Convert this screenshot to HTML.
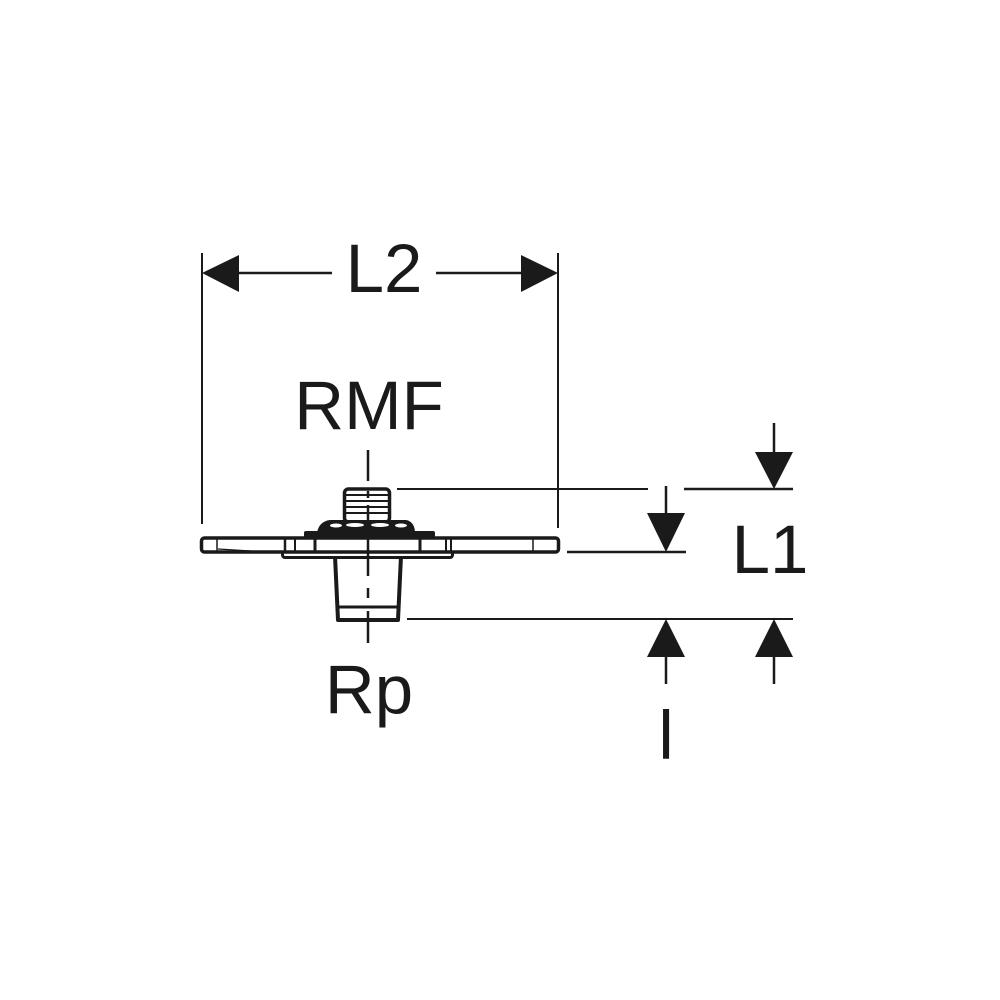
<!DOCTYPE html>
<html>
<head>
<meta charset="utf-8">
<style>
html,body{margin:0;padding:0;background:#fff;}
svg{display:block;}
text{font-family:"Liberation Sans",Arial,sans-serif;fill:#1a1a1a;}
</style>
</head>
<body>
<svg width="1000" height="1000" viewBox="0 0 1000 1000" xmlns="http://www.w3.org/2000/svg">
<rect width="1000" height="1000" fill="#fff"/>
<g stroke="#1a1a1a" fill="none">
  <!-- extension lines L2 -->
  <line x1="202" y1="253" x2="202" y2="524" stroke-width="2"/>
  <line x1="558" y1="253" x2="558" y2="528" stroke-width="2"/>
  <!-- L2 dimension line -->
  <line x1="238" y1="273" x2="332" y2="273" stroke-width="2.5"/>
  <line x1="436" y1="273" x2="522" y2="273" stroke-width="2.5"/>
  <!-- horizontal extension lines right -->
  <line x1="397" y1="489" x2="648" y2="489" stroke-width="2"/>
  <line x1="684" y1="489" x2="793" y2="489" stroke-width="2.5"/>
  <line x1="567" y1="552" x2="686" y2="552" stroke-width="2.5"/>
  <line x1="407" y1="619" x2="793" y2="619" stroke-width="2"/>
  <!-- arrow shafts -->
  <line x1="774" y1="423" x2="774" y2="453" stroke-width="2.5"/>
  <line x1="666" y1="486" x2="666" y2="514" stroke-width="2.5"/>
  <line x1="666" y1="656" x2="666" y2="684" stroke-width="2.5"/>
  <line x1="774" y1="656" x2="774" y2="684" stroke-width="2.5"/>
</g>
<g fill="#1a1a1a">
  <polygon points="202,273 239,255 239,292"/>
  <polygon points="558,273 521,255 521,292"/>
  <polygon points="755,452 793,452 774,489"/>
  <polygon points="647,513 685,513 666,552"/>
  <polygon points="647,657 685,657 666,619"/>
  <polygon points="755,657 793,657 774,619"/>
</g>

<!-- fitting -->
<g stroke="#1a1a1a" fill="#fff" stroke-linejoin="round">
  <!-- cone body -->
  <polygon points="335,556 401,556 398,620 338,620" stroke-width="4"/>
  <line x1="337" y1="607" x2="399" y2="607" stroke-width="3"/>
  <!-- lower flange -->
  <rect x="282.5" y="551" width="170" height="6.5" rx="2.5" stroke-width="3"/>
  <!-- plate -->
  <rect x="201.5" y="538" width="357" height="14" rx="3" stroke-width="3.5"/>
  <line x1="217" y1="539" x2="217" y2="551" stroke-width="1.5"/>
  <line x1="218" y1="549" x2="283" y2="553" stroke-width="1.2"/>
  <line x1="285" y1="539" x2="285" y2="551" stroke-width="2.5"/>
  <line x1="295" y1="539" x2="295" y2="551" stroke-width="2"/>
  <line x1="315" y1="539" x2="315" y2="551" stroke-width="3"/>
  <line x1="420" y1="539" x2="420" y2="551" stroke-width="3"/>
  <line x1="446" y1="539" x2="446" y2="551" stroke-width="2"/>
  <line x1="451" y1="539" x2="451" y2="551" stroke-width="2"/>
  <line x1="533" y1="539" x2="533" y2="551" stroke-width="1.5"/>
  <!-- nipple -->
  <rect x="344.5" y="489" width="45" height="33" rx="4" stroke-width="3.5"/>
  <g stroke-width="2">
    <line x1="346" y1="495" x2="388" y2="495"/>
    <line x1="346" y1="501" x2="388" y2="501"/>
    <line x1="346" y1="507" x2="388" y2="507"/>
    <line x1="346" y1="513" x2="388" y2="513"/>
  </g>
</g>
<g fill="#1a1a1a">
  <!-- black band -->
  <rect x="304" y="531" width="131" height="8" rx="2"/>
  <!-- dome -->
  <path d="M317,533 C318,526 322,521 330,520 L406,520 C412,521 415,526 415,533 Z"/>
</g>
<g fill="#fff">
  <ellipse cx="336" cy="525.5" rx="6" ry="2"/>
  <ellipse cx="355" cy="525" rx="9" ry="2"/>
  <ellipse cx="380" cy="525" rx="9" ry="2"/>
  <ellipse cx="401" cy="525.5" rx="6" ry="2"/>
</g>
<!-- centerline -->
<g stroke="#1a1a1a" stroke-width="2.5">
  <line x1="368" y1="450" x2="368" y2="481"/>
  <line x1="368" y1="491" x2="368" y2="498"/>
  <line x1="368" y1="505" x2="368" y2="533"/>
  <line x1="368" y1="537" x2="368" y2="576"/>
  <line x1="368" y1="588" x2="368" y2="598"/>
  <line x1="368" y1="611" x2="368" y2="643"/>
</g>

<!-- labels -->
<text x="384" y="292" font-size="69" text-anchor="middle">L2</text>
<text x="369" y="429" font-size="69" text-anchor="middle">RMF</text>
<text x="770" y="573" font-size="69" text-anchor="middle">L1</text>
<text x="369" y="713" font-size="69" text-anchor="middle">Rp</text>
<text x="666" y="759" font-size="69" text-anchor="middle">l</text>
</svg>
</body>
</html>
